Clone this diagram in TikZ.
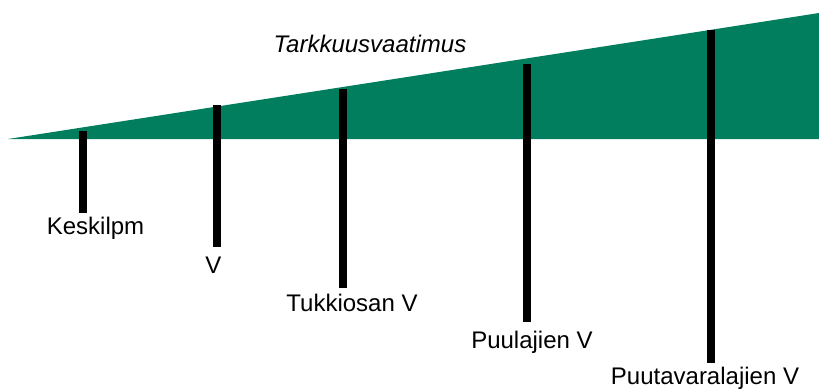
\documentclass[tikz,border=0pt]{standalone}
\usepackage{fontspec}
\setmainfont{Liberation Sans}
\definecolor{wedge}{RGB}{0,126,94}
\begin{document}
\begin{tikzpicture}[x=1pt,y=-1pt,
  bar/.style={line width=8pt,black},
  lbl/.style={inner sep=0pt,anchor=base,font=\fontsize{24}{28}\selectfont},
  title/.style={lbl,font=\fontsize{24}{28}\selectfont\itshape}]
\useasboundingbox (0,0) rectangle (819,389);
% rising requirement wedge
\fill[wedge] (8,139) -- (819,13) -- (819,139) -- cycle;
\node[title] (t) at (370,52) {Tarkkuusvaatimus};
% labels
\node[lbl] (k) at (95.5,234) {Keskilpm};
\node[lbl] (v) at (213.5,273) {V};
\node[lbl] (tu) at (352,311) {Tukkiosan V};
\node[lbl] (pl) at (532,348) {Puulajien V};
\node[lbl] (pt) at (705,384) {Puutavaralajien V};
% bar ends
\coordinate (k1) at (83,131);  \coordinate (k2) at (83,213);
\coordinate (v1) at (217,105); \coordinate (v2) at (217,247);
\coordinate (tu1) at (343,89); \coordinate (tu2) at (343,288);
\coordinate (pl1) at (527,64); \coordinate (pl2) at (527,322);
\coordinate (pt1) at (711,30); \coordinate (pt2) at (711,363);
\foreach \b in {k,v,tu,pl,pt}{\draw[bar] (\b1) -- (\b2);}
\end{tikzpicture}
\end{document}
